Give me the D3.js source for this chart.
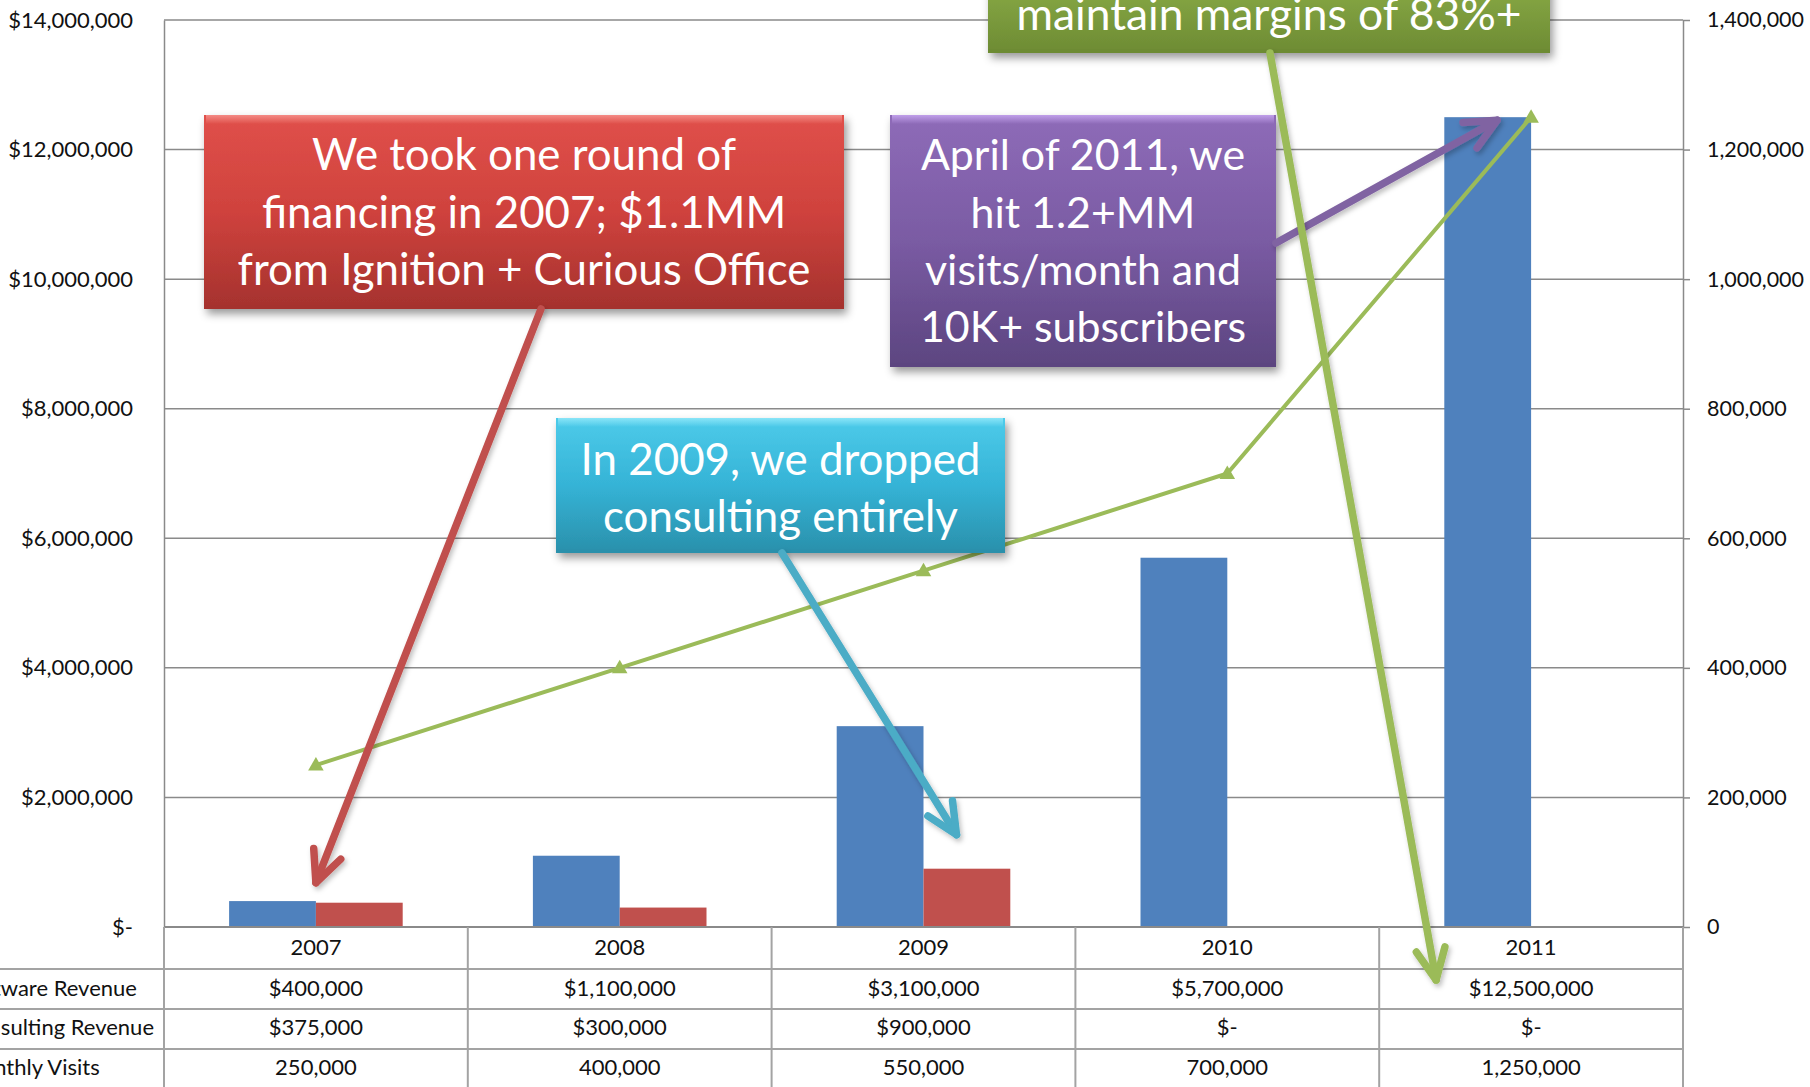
<!DOCTYPE html>
<html>
<head>
<meta charset="utf-8">
<script src="https://cdn.jsdelivr.net/npm/d3@7"></script>
<style>
  html, body { margin: 0; padding: 0; background: #fff; }
  svg { display: block; font-family: Lato, "Open Sans", sans-serif; }
</style>
</head>
<body>
<svg id="chart"></svg>
<script>
const W = 1810, H = 1087

// data
const years = ["2007", "2008", "2009", "2010", "2011"]
const softwareRevenue = [400000, 1100000, 3100000, 5700000, 12500000]
const consultingRevenue = [375000, 300000, 900000, 0, 0]
const monthlyVisits = [250000, 400000, 550000, 700000, 1250000]
const rowLabels = ["Software Revenue", "Consulting Revenue", "Monthly Visits"]
const leftTicks = [0, 2000000, 4000000, 6000000, 8000000, 10000000, 12000000, 14000000]
const rightTicks = [0, 200000, 400000, 600000, 800000, 1000000, 1200000, 1400000]

const plot = {left: 164, right: 1683, top: 20, bottom: 927}
const blue = "#4F81BD", red = "#C0504D", green = "#9BBB59"
const gridColor = "#8a8a8a", tableColor = "#a3a3a3"

const x = d3.scaleBand().domain(years).range([plot.left, plot.right])
const yL = d3.scaleLinear().domain([0, 14000000]).range([plot.bottom, plot.top])
const yR = d3.scaleLinear().domain([0, 1400000]).range([plot.bottom, plot.top])
const barW = x.bandwidth() / 3.5
const cx = y => x(y) + x.bandwidth() / 2

const money = v => v === 0 ? "$-" : "$" + d3.format(",")(v)
const count = v => v === 0 ? "0" : d3.format(",")(v)

const svg = d3.select("#chart").attr("width", W).attr("height", H)
svg.append("rect").attr("width", W).attr("height", H).attr("fill", "#fff")

const defs = svg.append("defs")
defs.append("filter").attr("id", "shadow")
    .attr("x", "-10%").attr("y", "-10%").attr("width", "130%").attr("height", "140%")
    .append("feDropShadow")
    .attr("dx", 3).attr("dy", 5).attr("stdDeviation", 4)
    .attr("flood-color", "#000").attr("flood-opacity", 0.4)
defs.append("filter").attr("id", "ashadow")
    .attr("x", "-20%").attr("y", "-20%").attr("width", "140%").attr("height", "140%")
    .append("feDropShadow")
    .attr("dx", 2).attr("dy", 3).attr("stdDeviation", 2.5)
    .attr("flood-color", "#000").attr("flood-opacity", 0.25)

// gridlines
svg.append("g").selectAll("line")
    .data(leftTicks)
    .enter().append("line")
    .attr("x1", plot.left).attr("x2", plot.right)
    .attr("y1", d => yL(d)).attr("y2", d => yL(d))
    .attr("stroke", gridColor).attr("stroke-width", 1.5)

// left axis
const axL = svg.append("g")
    .attr("transform", `translate(${plot.left},0)`)
    .call(d3.axisLeft(yL).tickValues(leftTicks).tickSize(0).tickPadding(31).tickFormat(money))
axL.select(".domain").attr("stroke", gridColor).attr("stroke-width", 1.5)
axL.selectAll("text").attr("font-size", 22).attr("fill", "#111").attr("font-family", "Lato")

// right axis
const axR = svg.append("g")
    .attr("transform", `translate(${plot.right},0)`)
    .call(d3.axisRight(yR).tickValues(rightTicks).tickSize(7).tickSizeOuter(0).tickPadding(17).tickFormat(count))
axR.select(".domain").attr("stroke", gridColor).attr("stroke-width", 1.5)
axR.selectAll("line").attr("stroke", gridColor).attr("stroke-width", 1.5)
axR.selectAll("text").attr("font-size", 21.5).attr("fill", "#111").attr("font-family", "Lato")

// bars
svg.append("g").selectAll("rect")
    .data(years.map((y, i) => ({y, v: softwareRevenue[i]})))
    .enter().append("rect")
    .attr("x", d => cx(d.y) - barW).attr("width", barW)
    .attr("y", d => yL(d.v)).attr("height", d => yL(0) - yL(d.v))
    .attr("fill", blue)
svg.append("g").selectAll("rect")
    .data(years.map((y, i) => ({y, v: consultingRevenue[i]})))
    .enter().append("rect")
    .attr("x", d => cx(d.y)).attr("width", barW)
    .attr("y", d => yL(d.v)).attr("height", d => yL(0) - yL(d.v))
    .attr("fill", red)

// visits line
const visits = years.map((y, i) => ({y, v: monthlyVisits[i]}))
svg.append("path")
    .datum(visits)
    .attr("fill", "none").attr("stroke", green).attr("stroke-width", 4)
    .attr("d", d3.line().x(d => cx(d.y)).y(d => yR(d.v)))
svg.append("g").selectAll("path")
    .data(visits)
    .enter().append("path")
    .attr("transform", d => `translate(${cx(d.y)},${yR(d.v) + 1})`)
    .attr("d", d3.symbol(d3.symbolTriangle, 105))
    .attr("fill", green)

// data table
const rowLines = [969, 1009, 1049]
const baselines = [955, 996, 1035, 1075]
const table = svg.append("g")
table.append("line")
    .attr("x1", plot.left).attr("x2", plot.right)
    .attr("y1", plot.bottom).attr("y2", plot.bottom)
    .attr("stroke", gridColor).attr("stroke-width", 2)
table.selectAll(".hl")
    .data(rowLines)
    .enter().append("line")
    .attr("x1", 0).attr("x2", plot.right)
    .attr("y1", d => d).attr("y2", d => d)
    .attr("stroke", tableColor).attr("stroke-width", 2)
table.selectAll(".vl")
    .data(years.map(y => x(y)).concat([plot.right]))
    .enter().append("line")
    .attr("x1", d => d).attr("x2", d => d)
    .attr("y1", plot.bottom).attr("y2", H)
    .attr("stroke", tableColor).attr("stroke-width", 2)

const rows = [years, softwareRevenue.map(money), consultingRevenue.map(money), monthlyVisits.map(count)]
rows.forEach((row, r) => {
    table.append("g").selectAll("text")
        .data(row)
        .enter().append("text")
        .attr("x", (d, i) => cx(years[i]))
        .attr("y", baselines[r])
        .attr("text-anchor", "middle")
        .attr("font-size", 22).attr("fill", "#111")
        .text(d => d)
})
// row labels, cut off at the left edge as in the slide
const lab = table.append("g").selectAll("text")
    .data(rowLabels)
    .enter().append("text")
    .attr("y", (d, i) => baselines[i + 1])
    .attr("font-size", 22).attr("fill", "#111")
    .text(d => d)
const consW = lab.nodes()[1].getComputedTextLength()
lab.attr("x", 154 - consW)

// callouts
function gradient(id, stops) {
    const g = defs.append("linearGradient").attr("id", id)
        .attr("x1", 0).attr("y1", 0).attr("x2", 0).attr("y2", 1)
    stops.forEach(([o, c, a]) => g.append("stop").attr("offset", o).attr("stop-color", c).attr("stop-opacity", a == null ? 1 : a))
}

function marker(id, color) {
    defs.append("marker").attr("id", id)
        .attr("markerUnits", "userSpaceOnUse")
        .attr("markerWidth", 10).attr("markerHeight", 10)
        .attr("refX", 0).attr("refY", 0)
        .attr("orient", "auto")
        .style("overflow", "visible")
        .append("path")
        .attr("d", "M-31,-14.5L0,0L-31,14.5")
        .attr("fill", "none").attr("stroke", color)
        .attr("stroke-width", 7.5)
        .attr("stroke-linecap", "round").attr("stroke-linejoin", "round")
}

function arrow(id, color, from, to) {
    marker(id, color)
    svg.append("line")
        .attr("x1", from[0]).attr("y1", from[1])
        .attr("x2", to[0]).attr("y2", to[1])
        .attr("stroke", color).attr("stroke-width", 7.5)
        .attr("stroke-linecap", "round")
        .attr("marker-end", `url(#${id})`)
        .attr("filter", "url(#ashadow)")
}

function callout(c) {
    gradient(c.id + "-fill", [[0, c.top], [0.5, c.mid], [1, c.bottom]])
    gradient(c.id + "-hi", [[0, c.hi, 0.95], [1, c.hi, 0]])
    const g = svg.append("g")
    const w = c.x1 - c.x0, h = c.y1 - c.y0
    g.append("rect")
        .attr("x", c.x0).attr("y", c.y0).attr("width", w).attr("height", h)
        .attr("fill", `url(#${c.id}-fill)`)
        .attr("filter", "url(#shadow)")
    g.append("rect")
        .attr("x", c.x0 + 2).attr("y", c.y0).attr("width", w - 4).attr("height", 9)
        .attr("fill", `url(#${c.id}-hi)`)
    g.append("rect")
        .attr("x", c.x0).attr("y", c.y1 - 4).attr("width", w).attr("height", 4)
        .attr("fill", c.bottom).attr("opacity", 0.8)
    const t = g.selectAll("text")
        .data(c.lines)
        .enter().append("text")
        .attr("x", (c.x0 + c.x1) / 2)
        .attr("y", (d, i) => c.baselines[i])
        .attr("text-anchor", "middle")
        .attr("fill", "#fff")
        .attr("font-size", 40)
        .text(d => d)
    const widest = d3.max(t.nodes(), n => n.getComputedTextLength())
    t.attr("font-size", 40 * c.fit / widest)
}

callout({
    id: "redbox", x0: 204, x1: 844, y0: 115, y1: 309,
    top: "#E0504A", mid: "#CF423D", bottom: "#A5322E", hi: "#F58E89",
    lines: ["We took one round of", "financing in 2007; $1.1MM", "from Ignition + Curious Office"],
    baselines: [170, 228, 285], fit: 573
})
arrow("ah-red", red, [541, 309], [cx("2007"), yL(consultingRevenue[0]) - 20])

callout({
    id: "tealbox", x0: 556, x1: 1005, y0: 418, y1: 553,
    top: "#4DCBEA", mid: "#35B3D6", bottom: "#2A90AB", hi: "#8DE6F8",
    lines: ["In 2009, we dropped", "consulting entirely"],
    baselines: [475, 532], fit: 400
})
arrow("ah-teal", "#4BACC6", [782, 553], [cx("2009") + 33, yL(consultingRevenue[2]) - 34])

callout({
    id: "purplebox", x0: 890, x1: 1276, y0: 115, y1: 367,
    top: "#8E6BB8", mid: "#7A5BA3", bottom: "#5C4580", hi: "#C3A2EC",
    lines: ["April of 2011, we", "hit 1.2+MM", "visits/month and", "10K+ subscribers"],
    baselines: [170, 228, 285, 342], fit: 326
})
arrow("ah-purple", "#8064A2", [1276, 243], [cx("2011") - 34, yL(softwareRevenue[4]) + 3])

callout({
    id: "greenbox", x0: 988, x1: 1550, y0: -80, y1: 53,
    top: "#9BC05A", mid: "#87A845", bottom: "#6D8B33", hi: "#B9DB7C",
    lines: ["maintain margins of 83%+"],
    baselines: [30], fit: 505
})
arrow("ah-green", green, [1270, 53], [cx("2011") - 95, 980])
</script>
</body>
</html>
